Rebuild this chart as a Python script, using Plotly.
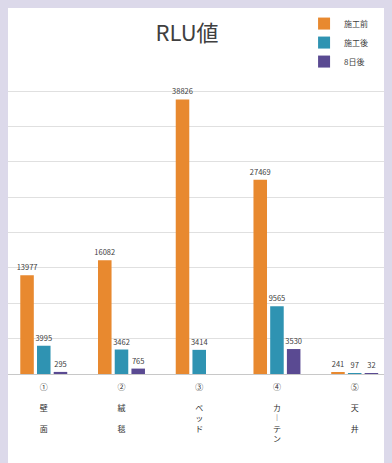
import plotly.graph_objects as go

categories = ["①<br><br>壁<br><br>面", "②<br><br>絨<br><br>毯", "③<br><br>ベ<br>ッ<br>ド",
              "④<br><br>カ<br>︱<br>テ<br>ン", "⑤<br><br>天<br><br>井"]
series_names = ["施工前", "施工後", "8日後"]
before = [13977, 16082, 38826, 27469, 241]
after = [3995, 3462, 3414, 9565, 97]
day8 = [295, 765, None, 3530, 32]
colors = ["#E8892F", "#2F93B2", "#5A4A92"]

W, H = 384, 455
fig = go.Figure()
for name, vals, col in zip(series_names, [before, after, day8], colors):
    fig.add_trace(go.Bar(
        x=categories, y=vals, name=name,
        marker=dict(color=col, line=dict(width=0)),
        text=[("" if v is None else str(v)) for v in vals],
        textposition="outside", cliponaxis=False, constraintext="none",
        textfont=dict(size=7.5, color="#404040", family="Noto Sans CJK JP"),
    ))

fig.update_layout(
    width=W, height=H,
    margin=dict(l=0, r=0, t=47, b=89, autoexpand=False),
    paper_bgcolor="white",
    plot_bgcolor="white",
    barmode="group", bargap=0.355, bargroupgap=0.19,
    font=dict(family="Noto Sans CJK JP", color="#404040"),
    title=dict(text="RLU値", x=179 / W, xanchor="center", y=1 - 25 / H, yanchor="middle",
               font=dict(size=22, color="#404040", family="Noto Sans CJK JP")),
    legend=dict(x=0.771, y=1.144, xanchor="left", yanchor="top",
                font=dict(size=8, color="#404040"), bgcolor="rgba(0,0,0,0)",
                traceorder="normal"),
)
fig.update_xaxes(range=[-0.46, 4.48], showgrid=False, showline=False, ticks="",
                 ticklabelstandoff=7, automargin=False,
                 tickfont=dict(size=8, color="#303030", family="Noto Sans CJK JP"))
fig.update_yaxes(range=[0, 45100], dtick=5000, showticklabels=False, showgrid=True,
                 automargin=False,
                 gridcolor="#e0e0e0", gridwidth=1, zeroline=True, zerolinecolor="#c8c8c8",
                 zerolinewidth=1)

fig.write_html("out.html",
               post_script="document.body.style.backgroundColor='#dcd9ea';")
